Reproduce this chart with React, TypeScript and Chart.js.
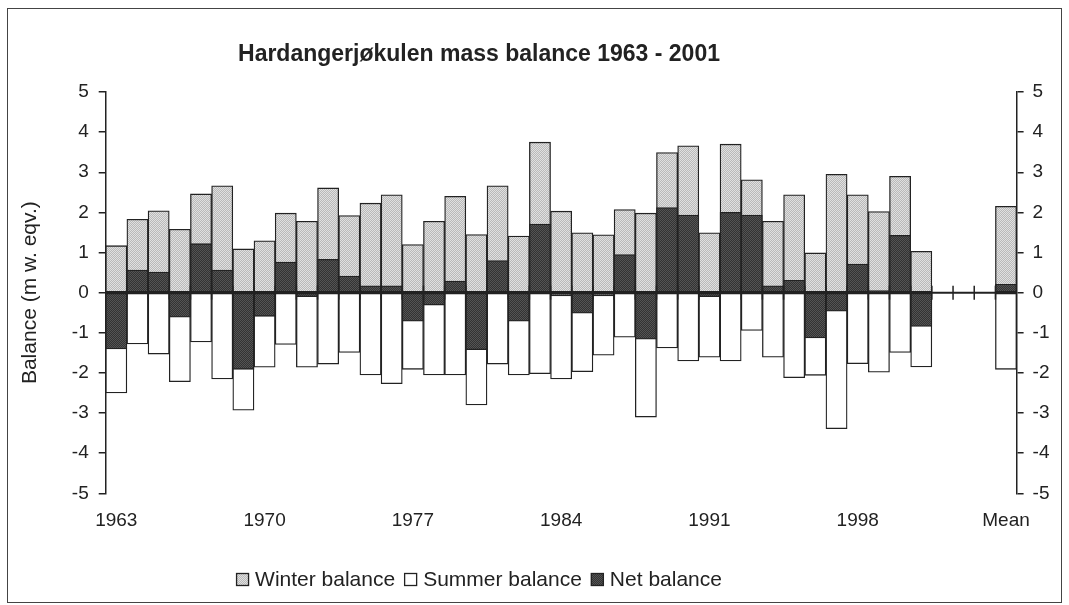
import React, { useEffect, useRef } from 'react';
import { Chart, registerables } from 'chart.js';

Chart.register(...registerables);

// ---------- data ----------
const years = [
  '1963', '1964', '1965', '1966', '1967', '1968', '1969', '1970', '1971', '1972',
  '1973', '1974', '1975', '1976', '1977', '1978', '1979', '1980', '1981', '1982',
  '1983', '1984', '1985', '1986', '1987', '1988', '1989', '1990', '1991', '1992',
  '1993', '1994', '1995', '1996', '1997', '1998', '1999', '2000', '2001',
];
const gapSlots = ['', '', ''];
const meanLabel = 'Mean';

const winterBalance = [
  1.17, 1.83, 2.04, 1.58, 2.46, 2.66, 1.09, 1.29, 1.98, 1.78,
  2.61, 1.92, 2.23, 2.44, 1.20, 1.78, 2.40, 1.45, 2.66, 1.41,
  3.75, 2.03, 1.49, 1.44, 2.07, 1.98, 3.49, 3.66, 1.49, 3.70,
  2.81, 1.78, 2.44, 0.99, 2.95, 2.44, 2.02, 2.90, 1.03,
];
const summerBalance = [
  -2.50, -1.28, -1.53, -2.22, -1.23, -2.15, -2.93, -1.86, -1.29, -1.86,
  -1.78, -1.49, -2.05, -2.27, -1.91, -2.05, -2.05, -2.80, -1.78, -2.05,
  -2.02, -2.15, -1.97, -1.56, -1.11, -3.10, -1.38, -1.70, -1.61, -1.70,
  -0.94, -1.61, -2.12, -2.06, -3.39, -1.77, -1.98, -1.49, -1.85,
];
const netBalance = [
  -1.40, 0.56, 0.51, -0.61, 1.22, 0.56, -1.91, -0.59, 0.76, -0.10,
  0.83, 0.41, 0.17, 0.17, -0.71, -0.31, 0.29, -1.42, 0.80, -0.71,
  1.71, -0.08, -0.51, -0.08, 0.95, -1.16, 2.12, 1.93, -0.10, 2.00,
  1.93, 0.17, 0.31, -1.13, -0.46, 0.71, 0.05, 1.43, -0.84,
];
const meanWinter = 2.15;
const meanSummer = -1.91;
const meanNet = 0.21;

const xTickLabels = ['1963', '1970', '1977', '1984', '1991', '1998', 'Mean'];
const yMin = -5;
const yMax = 5;
const yStep = 1;

const seriesNames = ['Winter balance', 'Summer balance', 'Net balance'];
const chartTitle = 'Hardangerjøkulen mass balance 1963 - 2001';
const yAxisTitle = 'Balance (m w. eqv.)';

// ---------- styling ----------
const FONT = '"Liberation Sans", Arial, Helvetica, sans-serif';
const TEXT = '#222';
const LINE = '#222';

function makePattern(a: string, b: string): CanvasPattern | string {
  const c = document.createElement('canvas');
  c.width = 2;
  c.height = 2;
  const g = c.getContext('2d');
  if (!g) return a;
  g.fillStyle = a;
  g.fillRect(0, 0, 2, 2);
  g.fillStyle = b;
  g.fillRect(0, 0, 1, 1);
  g.fillRect(1, 1, 1, 1);
  const ctx = document.createElement('canvas').getContext('2d');
  return (ctx && ctx.createPattern(c, 'repeat')) || a;
}

const titlePlugin = {
  id: 'fixedTitle',
  afterDraw(chart: any) {
    const { ctx } = chart;
    ctx.save();
    ctx.font = `bold 23px ${FONT}`;
    ctx.fillStyle = TEXT;
    ctx.textAlign = 'center';
    ctx.textBaseline = 'alphabetic';
    ctx.fillText(chartTitle, 471, 51.7);
    ctx.restore();
  },
};

const zeroAxisPlugin = {
  id: 'zeroAxis',
  afterDatasetsDraw(chart: any) {
    const { ctx, chartArea } = chart;
    const x = chart.scales.x;
    const y = chart.scales.y;
    const y0 = y.getPixelForValue(0);
    ctx.save();
    ctx.strokeStyle = LINE;
    ctx.lineWidth = 2;
    ctx.beginPath();
    ctx.moveTo(chartArea.left, y0);
    ctx.lineTo(chartArea.right, y0);
    ctx.stroke();
    ctx.lineWidth = 1.5;
    const n = chart.data.labels.length;
    for (let i = 1; i < n; i++) {
      const bx = (x.getPixelForValue(i - 1) + x.getPixelForValue(i)) / 2;
      ctx.beginPath();
      ctx.moveTo(bx, y0 - 7);
      ctx.lineTo(bx, y0 + 7);
      ctx.stroke();
    }
    ctx.restore();
  },
};

const legendPlugin = {
  id: 'fixedLegend',
  afterDraw(chart: any) {
    const { ctx } = chart;
    const ds = chart.data.datasets;
    const box = 13;
    const gap = 6;
    const spacing = 9;
    ctx.save();
    ctx.font = `21px ${FONT}`;
    const widths = ds.map((d: any) => box + gap + ctx.measureText(d.label).width);
    const total = widths.reduce((s: number, w: number) => s + w, 0) + spacing * (ds.length - 1);
    let cx = 471 - total / 2;
    const baseline = 577;
    ds.forEach((d: any, i: number) => {
      ctx.fillStyle = d.backgroundColor;
      ctx.fillRect(cx, baseline - box, box, box);
      ctx.strokeStyle = LINE;
      ctx.lineWidth = 1.3;
      ctx.strokeRect(cx + 0.5, baseline - box + 0.5, box - 1, box - 1);
      ctx.fillStyle = TEXT;
      ctx.textAlign = 'left';
      ctx.textBaseline = 'alphabetic';
      ctx.fillText(d.label, cx + box + gap, baseline);
      cx += widths[i] + spacing;
    });
    ctx.restore();
  },
};

export default function App() {
  const ref = useRef<HTMLCanvasElement | null>(null);

  useEffect(() => {
    if (!ref.current) return;
    const labels = [...years, ...gapSlots, meanLabel];
    const blanks = gapSlots.map(() => null);
    const winterData = [...winterBalance, ...blanks, meanWinter];
    const summerData = [...summerBalance, ...blanks, meanSummer];
    const netData = [...netBalance, ...blanks, meanNet];

    const winterFill = makePattern('#e0e0e0', '#b9b9b9');
    const netFill = makePattern('#545454', '#333333');

    const common = {
      borderColor: LINE,
      borderWidth: 1.3,
      borderSkipped: false,
      grouped: false,
      categoryPercentage: 1,
      barPercentage: 1,
      xAxisID: 'x',
      yAxisID: 'y',
    };

    const tickFont = { size: 19, family: FONT };

    const chart = new Chart(ref.current, {
      type: 'bar',
      data: {
        labels,
        datasets: [
          { ...common, label: seriesNames[0], data: winterData, backgroundColor: winterFill, order: 1 },
          { ...common, label: seriesNames[1], data: summerData, backgroundColor: '#ffffff', order: 1 },
          { ...common, label: seriesNames[2], data: netData, backgroundColor: netFill, order: 0 },
        ],
      } as any,
      options: {
        responsive: false,
        animation: false,
        layout: { padding: { top: 83, left: 0, right: 0, bottom: 0 } },
        plugins: {
          legend: { display: false },
          title: { display: false },
          tooltip: { enabled: false },
        },
        scales: {
          x: {
            type: 'category',
            offset: true,
            grid: { display: false, drawTicks: false },
            border: { display: false },
            ticks: {
              autoSkip: false,
              maxRotation: 0,
              minRotation: 0,
              padding: 16,
              color: TEXT,
              font: tickFont,
              callback: function (this: any, v: any) {
                const l = this.getLabelForValue(v);
                return xTickLabels.includes(l) ? l : '';
              },
            },
            afterFit: (s: any) => {
              s.height = 108.7;
            },
          },
          y: {
            type: 'linear',
            position: 'left',
            min: yMin,
            max: yMax,
            ticks: { stepSize: yStep, padding: 10, color: TEXT, font: tickFont },
            grid: { drawOnChartArea: false, drawTicks: true, tickLength: 7, color: LINE, lineWidth: 1.5 },
            border: { display: true, color: LINE, width: 1.5 },
            title: {
              display: true,
              text: yAxisTitle,
              color: TEXT,
              font: { size: 21, family: FONT },
              padding: { top: 10, bottom: 0 },
            },
            afterFit: (s: any) => {
              s.width = 97.7;
            },
          },
          y2: {
            type: 'linear',
            position: 'right',
            min: yMin,
            max: yMax,
            ticks: { stepSize: yStep, padding: 9, color: TEXT, font: tickFont },
            grid: { drawOnChartArea: false, drawTicks: true, tickLength: 7, color: LINE, lineWidth: 1.5 },
            border: { display: true, color: LINE, width: 1.5 },
            afterFit: (s: any) => {
              s.width = 44.4;
            },
          },
        },
      } as any,
      plugins: [zeroAxisPlugin, titlePlugin, legendPlugin],
    });

    return () => chart.destroy();
  }, []);

  return (
    <div
      style={{
        position: 'fixed',
        left: 7,
        top: 8,
        width: 1053,
        height: 593,
        border: '1px solid #444',
        background: '#fff',
      }}
    >
      <canvas ref={ref} width={1053} height={593} style={{ display: 'block', width: 1053, height: 593 }} />
    </div>
  );
}
